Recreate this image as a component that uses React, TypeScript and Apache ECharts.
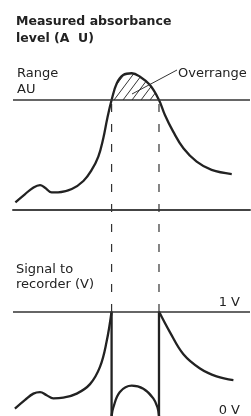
import React, { useEffect, useRef } from "react";
import * as echarts from "echarts";

// Measured absorbance (AU, range = 1)
const absX = [1, 5, 8.5, 11.4, 13.5, 16.3, 19, 24.8, 29.7, 33.2, 36, 38.1, 39.8, 41.6, 43.8, 46.5, 50.1, 53.6, 57.8, 61.6, 64.1, 67.6, 71.9, 77.5, 83.8, 92.3];
const absY = [0.07, 0.143, 0.203, 0.227, 0.203, 0.161, 0.161, 0.191, 0.264, 0.364, 0.485, 0.652, 0.834, 1.0, 1.152, 1.227, 1.243, 1.212, 1.136, 1.0, 0.864, 0.712, 0.561, 0.439, 0.364, 0.327];

// Overrange part (hatched)
const overX = [41.6, 43.8, 46.5, 50.1, 53.6, 57.8, 61.6];
const overY = [1.0, 1.152, 1.227, 1.243, 1.212, 1.136, 1.0];

// Signal to recorder (V)
const sigLeftX = [0.8, 5.1, 8.6, 11.4, 14.2, 17, 21.2, 26.9, 32.5, 36.7, 39.5, 41.6];
const sigLeftY = [0.07, 0.154, 0.214, 0.229, 0.199, 0.169, 0.175, 0.214, 0.305, 0.47, 0.712, 1.0];
const sigArcX = [41.6, 42.3, 45.1, 50.1, 55.0, 59.2, 61.0, 61.6];
const sigArcY = [0, 0.079, 0.229, 0.29, 0.26, 0.169, 0.079, 0];
const sigRightX = [61.6, 66.2, 71.9, 78.9, 85.9, 93];
const sigRightY = [1.0, 0.803, 0.591, 0.455, 0.38, 0.344];

const overrangeBounds = [41.6, 61.6];
const rangeLevel = 1;
const fullScale = 1;

const FONT = "'DejaVu Sans', sans-serif";
const INK = "#222";

const zip = (xs: number[], ys: number[]) => xs.map((x, i) => [x, ys[i]]);

const hatchSvg =
  "<svg xmlns='http://www.w3.org/2000/svg' width='9' height='12'>" +
  "<g stroke='#333' stroke-width='1'>" +
  "<line x1='0' y1='12' x2='9' y2='0'/>" +
  "<line x1='-1' y1='1.33' x2='1' y2='-1.33'/>" +
  "<line x1='8' y1='13.33' x2='10' y2='10.67'/>" +
  "</g></svg>";
const hatchUrl = "data:image/svg+xml;charset=utf-8," + encodeURIComponent(hatchSvg);

export default function App() {
  const ref = useRef<HTMLDivElement>(null);
  useEffect(() => {
    const chart = echarts.init(ref.current as HTMLDivElement, null, { renderer: "svg" });
    const curveStyle = { color: INK, width: 2.3 };
    const option: any = {
      animation: false,
      grid: [
        { left: 13, right: 1, top: 56, height: 154 },
        { left: 13, right: 1, top: 311.5, height: 110.5 },
      ],
      xAxis: [
        {
          type: "value", gridIndex: 0, min: 0, max: 100,
          axisLine: { show: true, lineStyle: { color: "#444", width: 2 } },
          axisTick: { show: false }, axisLabel: { show: false }, splitLine: { show: false },
        },
        {
          type: "value", gridIndex: 1, min: 0, max: 100, show: false,
        },
      ],
      yAxis: [
        { type: "value", gridIndex: 0, min: 0, max: 1.4, show: false },
        { type: "value", gridIndex: 1, min: 0, max: fullScale, show: false },
      ],
      series: [
        {
          type: "line", xAxisIndex: 0, yAxisIndex: 0, data: zip(overX, overY),
          smooth: 0.4, symbol: "none", lineStyle: { width: 0 },
          areaStyle: {
            origin: rangeLevel, opacity: 1,
            color: { image: hatchUrl, repeat: "repeat", imageWidth: 9, imageHeight: 12 },
          },
          z: 1,
        },
        {
          type: "line", xAxisIndex: 0, yAxisIndex: 0, data: zip(absX, absY),
          smooth: 0.4, symbol: "none", lineStyle: curveStyle, z: 3,
          markLine: {
            silent: true, symbol: "none", label: { show: false },
            lineStyle: { color: "#333", width: 1.5, type: "solid" },
            data: [{ yAxis: rangeLevel }],
          },
        },
        {
          type: "line", xAxisIndex: 1, yAxisIndex: 1, data: zip(sigLeftX, sigLeftY),
          smooth: 0.4, symbol: "none", lineStyle: curveStyle, z: 3,
          markLine: {
            silent: true, symbol: "none", label: { show: false },
            lineStyle: { color: "#333", width: 1.5, type: "solid" },
            data: [{ yAxis: fullScale }],
          },
        },
        {
          type: "line", xAxisIndex: 1, yAxisIndex: 1,
          data: [[overrangeBounds[0], fullScale], [overrangeBounds[0], 0]],
          symbol: "none", lineStyle: curveStyle, z: 3,
        },
        {
          type: "line", xAxisIndex: 1, yAxisIndex: 1, data: zip(sigArcX, sigArcY),
          smooth: 0.4, symbol: "none", lineStyle: curveStyle, z: 3,
        },
        {
          type: "line", xAxisIndex: 1, yAxisIndex: 1,
          data: [[overrangeBounds[1], fullScale], [overrangeBounds[1], 0]],
          symbol: "none", lineStyle: curveStyle, z: 3,
        },
        {
          type: "line", xAxisIndex: 1, yAxisIndex: 1, data: zip(sigRightX, sigRightY),
          smooth: 0.4, symbol: "none", lineStyle: curveStyle, z: 3,
        },
      ],
    };
    chart.setOption(option);

    const dashes = overrangeBounds.map((x) => {
      const p0 = chart.convertToPixel({ xAxisIndex: 0, yAxisIndex: 0 }, [x, rangeLevel]) as number[];
      const p1 = chart.convertToPixel({ xAxisIndex: 1, yAxisIndex: 1 }, [x, fullScale]) as number[];
      return {
        type: "line",
        shape: { x1: p0[0], y1: p0[1] + 4, x2: p1[0], y2: p1[1] },
        style: { stroke: "#333", lineWidth: 1.2, lineDash: [8, 12] },
        z: 2,
      };
    });

    const txt = (text: string, x: number, y: number, font: string, lineHeight: number, align = "left") => ({
      type: "text",
      x, y,
      style: { text, font, fill: INK, align, verticalAlign: "middle", lineHeight },
      z: 10,
    });

    chart.setOption({
      graphic: [
        txt("Measured absorbance\nlevel (A  U)", 16, 29, `bold 12.5px ${FONT}`, 17),
        txt("Range\nAU", 17, 80.5, `13px ${FONT}`, 16),
        txt("Overrange", 178, 72.5, `13px ${FONT}`, 16),
        txt("Signal to\nrecorder (V)", 16, 276, `13px ${FONT}`, 15),
        txt("1 V", 240, 301, `13px ${FONT}`, 15, "right"),
        txt("0 V", 240, 409, `13px ${FONT}`, 15, "right"),
        {
          type: "line",
          shape: { x1: 177, y1: 70, x2: 132, y2: 94 },
          style: { stroke: "#333", lineWidth: 1 },
          z: 4,
        },
        ...dashes,
      ],
    });

    return () => chart.dispose();
  }, []);
  return <div ref={ref} style={{ position: "fixed", left: 0, top: 0, width: 251, height: 416 }} />;
}
